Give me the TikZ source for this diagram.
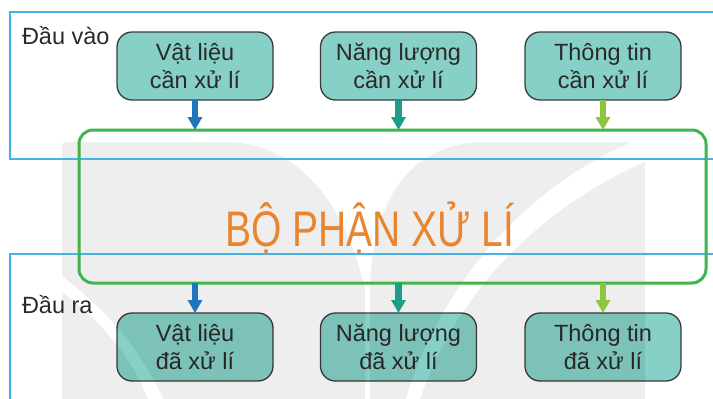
\documentclass[tikz,border=0pt]{standalone}
\usepackage{fontspec}
\setmainfont{Liberation Sans}
\newfontfamily\condfont[FakeStretch=0.78]{Liberation Sans}
\usetikzlibrary{arrows.meta}
\definecolor{frameblue}{HTML}{45B3E6}
\definecolor{boxteal}{HTML}{86D0C7}
\definecolor{boxline}{HTML}{3A3A3A}
\definecolor{txt}{HTML}{2A2A2A}
\definecolor{procgreen}{HTML}{3FB54B}
\definecolor{orangetxt}{HTML}{E8852F}
\definecolor{arrblue}{HTML}{1F76BE}
\definecolor{arrteal}{HTML}{1AA088}
\definecolor{arrlime}{HTML}{8CC640}
\begin{document}
\begin{tikzpicture}[x=1pt,y=-1pt,
  every node/.style={outer sep=0pt},
  item/.style={draw=boxline, line width=1.3pt, fill=boxteal, rounded corners=15pt,
    minimum width=156pt, minimum height=68pt, inner sep=0pt, align=center, text=txt,
    font=\fontsize{23.5pt}{28pt}\selectfont},
  sidetext/.style={anchor=base west, text=txt, inner sep=0pt,
    font=\fontsize{23.5pt}{28pt}\selectfont},
  flow/.style={line width=6.5pt, -{Triangle[width=14pt,length=13pt]}},
  frameline/.style={draw=frameblue, line width=1.5pt},
  wm/.style={fill=black, fill opacity=0.065, draw=none}
]
\useasboundingbox (0,0) rectangle (713,399);
\clip (0,0) rectangle (713,399);

% boxes
\node[item] (t1) at (195,66) {Vật liệu\\cần xử lí};
\node[item] (t2) at (398.5,66) {Năng lượng\\cần xử lí};
\node[item] (t3) at (603,66) {Thông tin\\cần xử lí};
\node[item] (b1) at (195,347) {Vật liệu\\đã xử lí};
\node[item] (b2) at (398.5,347) {Năng lượng\\đã xử lí};
\node[item] (b3) at (603,347) {Thông tin\\đã xử lí};

% watermark
\path[wm] (62,405) -- (62,292) .. controls (100,320) and (135,360) .. (150,405) -- cycle;
\path[wm] (62,276) -- (62,148) .. controls (62,143) .. (68,142) -- (225,142)
  .. controls (295,142) and (345,200) .. (365,290) -- (365,405) -- (166,405)
  .. controls (140,345) and (100,305) .. (62,276) -- cycle;
\path[wm] (370,405) -- (370,290) .. controls (372,200) and (410,145) .. (480,142)
  -- (632,142) .. controls (530,185) and (440,280) .. (404,405) -- cycle;
\path[wm] (418,405) .. controls (455,290) and (545,205) .. (645,162) -- (645,405) -- cycle;

% frames
\draw[frameline] (720,12) -- (10,12) -- (10,159) -- (720,159);
\draw[frameline] (720,254) -- (10,254) -- (10,405);

% processing unit
\node[draw=procgreen, line width=3pt, rounded corners=14pt, minimum width=627pt,
  minimum height=153pt, inner sep=0pt] (proc) at (392.5,206.5) {};
\node[anchor=base, text=orangetxt, inner sep=0pt,
  font=\condfont\fontsize{50pt}{50pt}\selectfont] (proctext) at (370,246) {BỘ PHẬN XỬ LÍ};

% arrows
\draw[flow, arrblue] (t1.south) -- (t1.south |- proc.north);
\draw[flow, arrteal] (t2.south) -- (t2.south |- proc.north);
\draw[flow, arrlime] (t3.south) -- (t3.south |- proc.north);
\draw[flow, arrblue] (proc.south -| b1) -- (b1.north);
\draw[flow, arrteal] (proc.south -| b2) -- (b2.north);
\draw[flow, arrlime] (proc.south -| b3) -- (b3.north);

% side labels
\node[sidetext] (inlbl) at (22,44) {Đầu vào};
\node[sidetext] (outlbl) at (22,313) {Đầu ra};
\end{tikzpicture}
\end{document}
